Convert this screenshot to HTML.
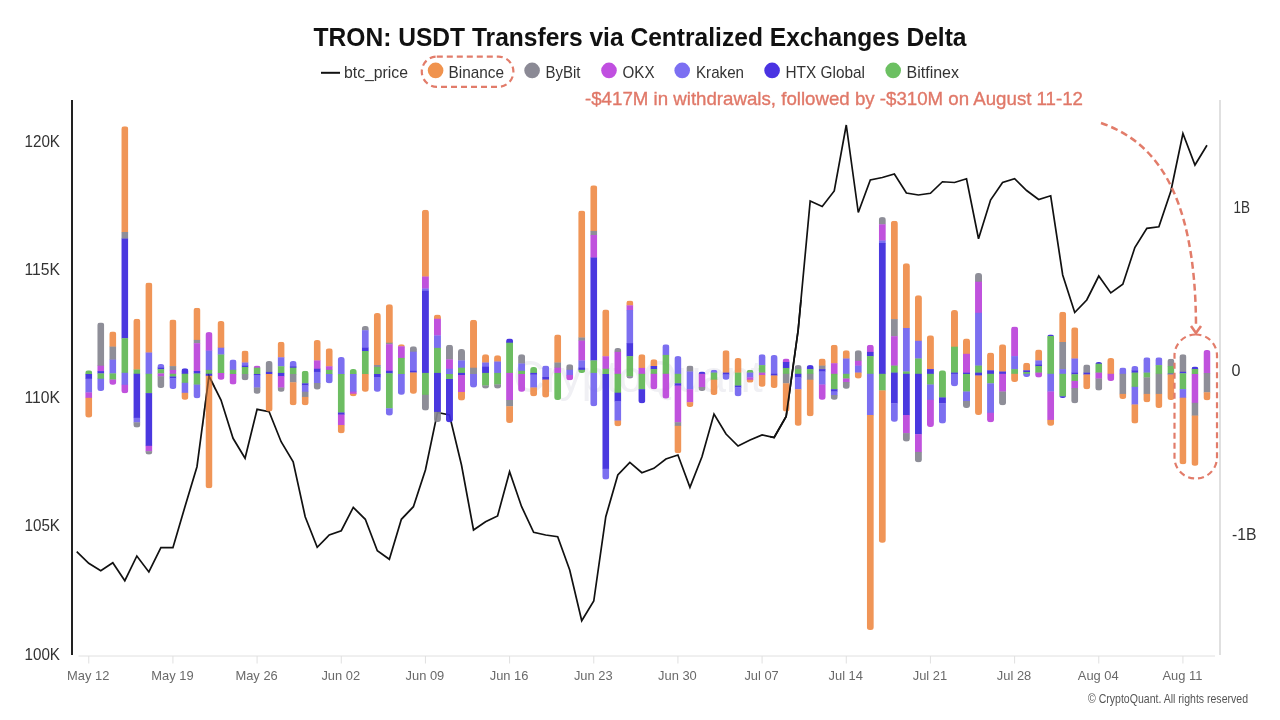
<!DOCTYPE html>
<html><head><meta charset="utf-8">
<style>
html,body{margin:0;padding:0;background:#fff;}
body{width:1280px;height:720px;overflow:hidden;position:relative;font-family:"Liberation Sans",sans-serif;}
svg{position:absolute;left:0;top:0;}
</style></head><body>
<svg width="1280" height="720" viewBox="0 0 1280 720">
<defs><clipPath id="c0"><rect x="85.25" y="370.30" width="7.0" height="47.30" rx="3" ry="3"/></clipPath><clipPath id="c1"><rect x="97.27" y="322.50" width="7.0" height="68.50" rx="3" ry="3"/></clipPath><clipPath id="c2"><rect x="109.30" y="331.40" width="7.0" height="53.40" rx="3" ry="3"/></clipPath><clipPath id="c3"><rect x="121.32" y="126.25" width="7.0" height="266.95" rx="3" ry="3"/></clipPath><clipPath id="c4"><rect x="133.35" y="318.70" width="7.0" height="108.70" rx="3" ry="3"/></clipPath><clipPath id="c5"><rect x="145.37" y="282.60" width="7.0" height="171.90" rx="3" ry="3"/></clipPath><clipPath id="c6"><rect x="157.39" y="364.00" width="7.0" height="24.00" rx="3" ry="3"/></clipPath><clipPath id="c7"><rect x="169.42" y="319.50" width="7.0" height="69.50" rx="3" ry="3"/></clipPath><clipPath id="c8"><rect x="181.44" y="368.20" width="7.0" height="31.60" rx="3" ry="3"/></clipPath><clipPath id="c9"><rect x="193.47" y="307.80" width="7.0" height="90.50" rx="3" ry="3"/></clipPath><clipPath id="c10"><rect x="205.49" y="332.10" width="7.0" height="156.10" rx="3" ry="3"/></clipPath><clipPath id="c11"><rect x="217.51" y="321.00" width="7.0" height="58.80" rx="3" ry="3"/></clipPath><clipPath id="c12"><rect x="229.54" y="359.40" width="7.0" height="25.00" rx="3" ry="3"/></clipPath><clipPath id="c13"><rect x="241.56" y="350.60" width="7.0" height="29.60" rx="3" ry="3"/></clipPath><clipPath id="c14"><rect x="253.59" y="365.60" width="7.0" height="28.15" rx="3" ry="3"/></clipPath><clipPath id="c15"><rect x="265.61" y="361.00" width="7.0" height="50.50" rx="3" ry="3"/></clipPath><clipPath id="c16"><rect x="277.63" y="341.70" width="7.0" height="50.00" rx="3" ry="3"/></clipPath><clipPath id="c17"><rect x="289.66" y="361.00" width="7.0" height="44.20" rx="3" ry="3"/></clipPath><clipPath id="c18"><rect x="301.68" y="370.80" width="7.0" height="34.40" rx="3" ry="3"/></clipPath><clipPath id="c19"><rect x="313.71" y="340.00" width="7.0" height="49.60" rx="3" ry="3"/></clipPath><clipPath id="c20"><rect x="325.73" y="348.30" width="7.0" height="35.00" rx="3" ry="3"/></clipPath><clipPath id="c21"><rect x="337.75" y="356.90" width="7.0" height="76.40" rx="3" ry="3"/></clipPath><clipPath id="c22"><rect x="349.78" y="369.00" width="7.0" height="27.25" rx="3" ry="3"/></clipPath><clipPath id="c23"><rect x="361.80" y="326.00" width="7.0" height="65.70" rx="3" ry="3"/></clipPath><clipPath id="c24"><rect x="373.83" y="312.90" width="7.0" height="78.80" rx="3" ry="3"/></clipPath><clipPath id="c25"><rect x="385.85" y="304.20" width="7.0" height="111.40" rx="3" ry="3"/></clipPath><clipPath id="c26"><rect x="397.87" y="344.20" width="7.0" height="50.60" rx="3" ry="3"/></clipPath><clipPath id="c27"><rect x="409.90" y="346.25" width="7.0" height="47.50" rx="3" ry="3"/></clipPath><clipPath id="c28"><rect x="421.92" y="209.70" width="7.0" height="200.70" rx="3" ry="3"/></clipPath><clipPath id="c29"><rect x="433.95" y="314.60" width="7.0" height="107.30" rx="3" ry="3"/></clipPath><clipPath id="c30"><rect x="445.97" y="344.80" width="7.0" height="77.50" rx="3" ry="3"/></clipPath><clipPath id="c31"><rect x="457.99" y="349.00" width="7.0" height="51.40" rx="3" ry="3"/></clipPath><clipPath id="c32"><rect x="470.02" y="319.80" width="7.0" height="67.70" rx="3" ry="3"/></clipPath><clipPath id="c33"><rect x="482.04" y="354.20" width="7.0" height="34.30" rx="3" ry="3"/></clipPath><clipPath id="c34"><rect x="494.07" y="355.20" width="7.0" height="33.30" rx="3" ry="3"/></clipPath><clipPath id="c35"><rect x="506.09" y="338.50" width="7.0" height="84.40" rx="3" ry="3"/></clipPath><clipPath id="c36"><rect x="518.11" y="354.20" width="7.0" height="37.50" rx="3" ry="3"/></clipPath><clipPath id="c37"><rect x="530.14" y="367.00" width="7.0" height="29.25" rx="3" ry="3"/></clipPath><clipPath id="c38"><rect x="542.16" y="365.60" width="7.0" height="31.90" rx="3" ry="3"/></clipPath><clipPath id="c39"><rect x="554.19" y="334.40" width="7.0" height="65.60" rx="3" ry="3"/></clipPath><clipPath id="c40"><rect x="566.21" y="364.20" width="7.0" height="16.00" rx="3" ry="3"/></clipPath><clipPath id="c41"><rect x="578.23" y="210.60" width="7.0" height="162.30" rx="3" ry="3"/></clipPath><clipPath id="c42"><rect x="590.26" y="185.30" width="7.0" height="220.95" rx="3" ry="3"/></clipPath><clipPath id="c43"><rect x="602.28" y="309.40" width="7.0" height="170.00" rx="3" ry="3"/></clipPath><clipPath id="c44"><rect x="614.31" y="347.90" width="7.0" height="78.35" rx="3" ry="3"/></clipPath><clipPath id="c45"><rect x="626.33" y="300.60" width="7.0" height="77.90" rx="3" ry="3"/></clipPath><clipPath id="c46"><rect x="638.35" y="354.20" width="7.0" height="49.10" rx="3" ry="3"/></clipPath><clipPath id="c47"><rect x="650.38" y="359.20" width="7.0" height="30.00" rx="3" ry="3"/></clipPath><clipPath id="c48"><rect x="662.40" y="344.30" width="7.0" height="54.30" rx="3" ry="3"/></clipPath><clipPath id="c49"><rect x="674.43" y="356.10" width="7.0" height="97.20" rx="3" ry="3"/></clipPath><clipPath id="c50"><rect x="686.45" y="365.60" width="7.0" height="41.30" rx="3" ry="3"/></clipPath><clipPath id="c51"><rect x="698.47" y="371.50" width="7.0" height="19.50" rx="3" ry="3"/></clipPath><clipPath id="c52"><rect x="710.50" y="369.80" width="7.0" height="25.30" rx="3" ry="3"/></clipPath><clipPath id="c53"><rect x="722.52" y="350.20" width="7.0" height="29.50" rx="3" ry="3"/></clipPath><clipPath id="c54"><rect x="734.55" y="358.00" width="7.0" height="38.30" rx="3" ry="3"/></clipPath><clipPath id="c55"><rect x="746.57" y="369.80" width="7.0" height="12.80" rx="3" ry="3"/></clipPath><clipPath id="c56"><rect x="758.59" y="354.20" width="7.0" height="32.60" rx="3" ry="3"/></clipPath><clipPath id="c57"><rect x="770.62" y="354.90" width="7.0" height="33.10" rx="3" ry="3"/></clipPath><clipPath id="c58"><rect x="782.64" y="358.50" width="7.0" height="53.10" rx="3" ry="3"/></clipPath><clipPath id="c59"><rect x="794.67" y="365.10" width="7.0" height="60.70" rx="3" ry="3"/></clipPath><clipPath id="c60"><rect x="806.69" y="365.10" width="7.0" height="51.20" rx="3" ry="3"/></clipPath><clipPath id="c61"><rect x="818.71" y="358.50" width="7.0" height="41.30" rx="3" ry="3"/></clipPath><clipPath id="c62"><rect x="830.74" y="344.80" width="7.0" height="55.00" rx="3" ry="3"/></clipPath><clipPath id="c63"><rect x="842.76" y="350.20" width="7.0" height="38.50" rx="3" ry="3"/></clipPath><clipPath id="c64"><rect x="854.79" y="350.20" width="7.0" height="28.30" rx="3" ry="3"/></clipPath><clipPath id="c65"><rect x="866.81" y="344.80" width="7.0" height="285.20" rx="3" ry="3"/></clipPath><clipPath id="c66"><rect x="878.83" y="217.10" width="7.0" height="325.60" rx="3" ry="3"/></clipPath><clipPath id="c67"><rect x="890.86" y="220.80" width="7.0" height="200.90" rx="3" ry="3"/></clipPath><clipPath id="c68"><rect x="902.88" y="263.20" width="7.0" height="178.30" rx="3" ry="3"/></clipPath><clipPath id="c69"><rect x="914.91" y="295.20" width="7.0" height="167.10" rx="3" ry="3"/></clipPath><clipPath id="c70"><rect x="926.93" y="335.30" width="7.0" height="91.70" rx="3" ry="3"/></clipPath><clipPath id="c71"><rect x="938.95" y="370.30" width="7.0" height="53.10" rx="3" ry="3"/></clipPath><clipPath id="c72"><rect x="950.98" y="310.00" width="7.0" height="76.30" rx="3" ry="3"/></clipPath><clipPath id="c73"><rect x="963.00" y="338.40" width="7.0" height="69.60" rx="3" ry="3"/></clipPath><clipPath id="c74"><rect x="975.03" y="273.00" width="7.0" height="142.10" rx="3" ry="3"/></clipPath><clipPath id="c75"><rect x="987.05" y="352.60" width="7.0" height="69.60" rx="3" ry="3"/></clipPath><clipPath id="c76"><rect x="999.07" y="344.30" width="7.0" height="60.90" rx="3" ry="3"/></clipPath><clipPath id="c77"><rect x="1011.10" y="326.60" width="7.0" height="55.50" rx="3" ry="3"/></clipPath><clipPath id="c78"><rect x="1023.12" y="362.70" width="7.0" height="14.20" rx="3" ry="3"/></clipPath><clipPath id="c79"><rect x="1035.15" y="349.50" width="7.0" height="27.90" rx="3" ry="3"/></clipPath><clipPath id="c80"><rect x="1047.17" y="334.40" width="7.0" height="91.40" rx="3" ry="3"/></clipPath><clipPath id="c81"><rect x="1059.19" y="311.70" width="7.0" height="86.40" rx="3" ry="3"/></clipPath><clipPath id="c82"><rect x="1071.22" y="327.30" width="7.0" height="76.00" rx="3" ry="3"/></clipPath><clipPath id="c83"><rect x="1083.24" y="364.40" width="7.0" height="24.80" rx="3" ry="3"/></clipPath><clipPath id="c84"><rect x="1095.27" y="362.00" width="7.0" height="28.40" rx="3" ry="3"/></clipPath><clipPath id="c85"><rect x="1107.29" y="358.00" width="7.0" height="22.90" rx="3" ry="3"/></clipPath><clipPath id="c86"><rect x="1119.31" y="367.50" width="7.0" height="31.60" rx="3" ry="3"/></clipPath><clipPath id="c87"><rect x="1131.34" y="366.00" width="7.0" height="57.40" rx="3" ry="3"/></clipPath><clipPath id="c88"><rect x="1143.36" y="357.30" width="7.0" height="44.90" rx="3" ry="3"/></clipPath><clipPath id="c89"><rect x="1155.39" y="357.30" width="7.0" height="50.70" rx="3" ry="3"/></clipPath><clipPath id="c90"><rect x="1167.41" y="358.70" width="7.0" height="41.30" rx="3" ry="3"/></clipPath><clipPath id="c91"><rect x="1179.43" y="354.20" width="7.0" height="110.00" rx="3" ry="3"/></clipPath><clipPath id="c92"><rect x="1191.46" y="366.50" width="7.0" height="99.30" rx="3" ry="3"/></clipPath><clipPath id="c93"><rect x="1203.48" y="349.90" width="7.0" height="50.40" rx="3" ry="3"/></clipPath></defs>
<rect width="1280" height="720" fill="#fff"/>
<g style="will-change:transform">
<text x="638" y="392" text-anchor="middle" font-family="Liberation Sans" font-size="44" fill="#f0f0f4">CryptoQuant</text>
<text x="313.50" y="45.60" textLength="653.00" lengthAdjust="spacingAndGlyphs" font-family="Liberation Sans" font-weight="bold" font-size="25.7" fill="#111">TRON: USDT Transfers via Centralized Exchanges Delta</text>
<line x1="321" y1="72.8" x2="340" y2="72.8" stroke="#111" stroke-width="2"/>
<circle cx="435.6" cy="70.4" r="7.8" fill="#f0934e"/>
<circle cx="532.1" cy="70.4" r="7.8" fill="#8b8a95"/>
<circle cx="609" cy="70.4" r="7.8" fill="#c04fe0"/>
<circle cx="682.2" cy="70.4" r="7.8" fill="#7c6ff2"/>
<circle cx="772.1" cy="70.4" r="7.8" fill="#4a33e2"/>
<circle cx="893.2" cy="70.4" r="7.8" fill="#6cc062"/>
<text x="344.00" y="77.50" textLength="64.00" lengthAdjust="spacingAndGlyphs" font-family="Liberation Sans" font-weight="normal" font-size="17" fill="#333">btc_price</text>
<text x="448.50" y="77.50" textLength="55.50" lengthAdjust="spacingAndGlyphs" font-family="Liberation Sans" font-weight="normal" font-size="17" fill="#333">Binance</text>
<text x="545.50" y="77.50" textLength="35.00" lengthAdjust="spacingAndGlyphs" font-family="Liberation Sans" font-weight="normal" font-size="17" fill="#333">ByBit</text>
<text x="622.50" y="77.50" textLength="32.00" lengthAdjust="spacingAndGlyphs" font-family="Liberation Sans" font-weight="normal" font-size="17" fill="#333">OKX</text>
<text x="696.00" y="77.50" textLength="48.00" lengthAdjust="spacingAndGlyphs" font-family="Liberation Sans" font-weight="normal" font-size="17" fill="#333">Kraken</text>
<text x="785.50" y="77.50" textLength="79.50" lengthAdjust="spacingAndGlyphs" font-family="Liberation Sans" font-weight="normal" font-size="17" fill="#333">HTX Global</text>
<text x="906.50" y="77.50" textLength="52.50" lengthAdjust="spacingAndGlyphs" font-family="Liberation Sans" font-weight="normal" font-size="17" fill="#333">Bitfinex</text>
<rect x="421.8" y="56.6" width="91.6" height="30.2" rx="15" ry="15" fill="none" stroke="#e27c6a" stroke-width="2.2" stroke-dasharray="6 4"/>
<text stroke="#e07868" stroke-width="0.35" x="585.00" y="105.00" textLength="498.00" lengthAdjust="spacingAndGlyphs" font-family="Liberation Sans" font-weight="normal" font-size="18.6" fill="#e07868">-$417M in withdrawals, followed by -$310M on August 11-12</text>
<text x="24.50" y="146.60" textLength="35.50" lengthAdjust="spacingAndGlyphs" font-family="Liberation Sans" font-weight="normal" font-size="17" fill="#333">120K</text>
<text x="24.50" y="274.85" textLength="35.50" lengthAdjust="spacingAndGlyphs" font-family="Liberation Sans" font-weight="normal" font-size="17" fill="#333">115K</text>
<text x="24.50" y="403.10" textLength="35.50" lengthAdjust="spacingAndGlyphs" font-family="Liberation Sans" font-weight="normal" font-size="17" fill="#333">110K</text>
<text x="24.50" y="531.35" textLength="35.50" lengthAdjust="spacingAndGlyphs" font-family="Liberation Sans" font-weight="normal" font-size="17" fill="#333">105K</text>
<text x="24.50" y="659.60" textLength="35.50" lengthAdjust="spacingAndGlyphs" font-family="Liberation Sans" font-weight="normal" font-size="17" fill="#333">100K</text>
<text x="1233.50" y="212.70" textLength="16.50" lengthAdjust="spacingAndGlyphs" font-family="Liberation Sans" font-weight="normal" font-size="16.8" fill="#333">1B</text>
<text x="1231.50" y="375.70" textLength="9.00" lengthAdjust="spacingAndGlyphs" font-family="Liberation Sans" font-weight="normal" font-size="16.8" fill="#333">0</text>
<text x="1232.00" y="539.70" textLength="24.50" lengthAdjust="spacingAndGlyphs" font-family="Liberation Sans" font-weight="normal" font-size="16.8" fill="#333">-1B</text>
<text x="1088.00" y="702.50" textLength="160.00" lengthAdjust="spacingAndGlyphs" font-family="Liberation Sans" font-weight="normal" font-size="12.7" fill="#555">© CryptoQuant. All rights reserved</text>
<line x1="72" y1="100" x2="72" y2="655" stroke="#222" stroke-width="2"/>
<line x1="1220" y1="100" x2="1220" y2="655" stroke="#d6d6d6" stroke-width="1.5"/>
<line x1="78.5" y1="656" x2="1215" y2="656" stroke="#e0e0e0" stroke-width="1"/>
<g stroke="#e0e0e0" stroke-width="1"><line x1="88.75" y1="656" x2="88.75" y2="663.5"/><line x1="172.92" y1="656" x2="172.92" y2="663.5"/><line x1="257.09" y1="656" x2="257.09" y2="663.5"/><line x1="341.25" y1="656" x2="341.25" y2="663.5"/><line x1="425.42" y1="656" x2="425.42" y2="663.5"/><line x1="509.59" y1="656" x2="509.59" y2="663.5"/><line x1="593.76" y1="656" x2="593.76" y2="663.5"/><line x1="677.93" y1="656" x2="677.93" y2="663.5"/><line x1="762.09" y1="656" x2="762.09" y2="663.5"/><line x1="846.26" y1="656" x2="846.26" y2="663.5"/><line x1="930.43" y1="656" x2="930.43" y2="663.5"/><line x1="1014.60" y1="656" x2="1014.60" y2="663.5"/><line x1="1098.77" y1="656" x2="1098.77" y2="663.5"/><line x1="1182.93" y1="656" x2="1182.93" y2="663.5"/></g>
<g font-family="Liberation Sans" font-size="12.9" fill="#6a6a6a" text-anchor="middle"><text x="88.25" y="680" textLength="42.30" lengthAdjust="spacingAndGlyphs">May 12</text><text x="172.42" y="680" textLength="42.30" lengthAdjust="spacingAndGlyphs">May 19</text><text x="256.59" y="680" textLength="42.30" lengthAdjust="spacingAndGlyphs">May 26</text><text x="340.75" y="680" textLength="38.73" lengthAdjust="spacingAndGlyphs">Jun 02</text><text x="424.92" y="680" textLength="38.73" lengthAdjust="spacingAndGlyphs">Jun 09</text><text x="509.09" y="680" textLength="38.73" lengthAdjust="spacingAndGlyphs">Jun 16</text><text x="593.26" y="680" textLength="38.73" lengthAdjust="spacingAndGlyphs">Jun 23</text><text x="677.43" y="680" textLength="38.73" lengthAdjust="spacingAndGlyphs">Jun 30</text><text x="761.59" y="680" textLength="34.42" lengthAdjust="spacingAndGlyphs">Jul 07</text><text x="845.76" y="680" textLength="34.42" lengthAdjust="spacingAndGlyphs">Jul 14</text><text x="929.93" y="680" textLength="34.42" lengthAdjust="spacingAndGlyphs">Jul 21</text><text x="1014.10" y="680" textLength="34.42" lengthAdjust="spacingAndGlyphs">Jul 28</text><text x="1098.27" y="680" textLength="40.88" lengthAdjust="spacingAndGlyphs">Aug 04</text><text x="1182.43" y="680" textLength="39.93" lengthAdjust="spacingAndGlyphs">Aug 11</text></g>
</g>
<polyline points="76.73,551.70 88.75,563.30 100.77,570.70 112.80,562.70 124.82,580.70 136.85,556.00 148.87,572.00 160.89,547.70 172.92,547.70 184.94,506.70 196.97,466.70 208.99,376.00 221.01,400.00 233.04,438.30 245.06,458.30 257.09,409.30 269.11,411.70 281.13,441.70 293.16,461.70 305.18,516.70 317.21,547.30 329.23,535.00 341.25,530.70 353.28,507.30 365.30,519.30 377.33,550.70 389.35,559.30 401.37,519.30 413.40,506.70 425.42,470.00 437.45,412.50 449.47,415.00 461.49,465.00 473.52,530.00 485.54,521.70 497.57,516.00 509.59,471.70 521.61,506.70 533.64,532.30 545.66,535.00 557.69,536.70 569.71,570.00 581.73,620.70 593.76,601.00 605.78,516.70 617.81,475.00 629.83,462.30 641.85,472.70 653.88,468.30 665.90,459.00 677.93,455.00 689.95,487.30 701.97,456.70 714.00,414.00 726.02,434.00 738.05,446.00 750.07,440.00 762.09,435.00 774.12,437.50 786.14,416.50 798.17,330.00 810.19,201.00 822.21,206.50 834.24,191.00 846.26,125.00 858.29,212.50 870.31,180.00 882.33,177.50 894.36,174.00 906.38,193.00 918.41,195.00 930.43,193.25 942.45,181.75 954.48,182.50 966.50,178.75 978.53,238.75 990.55,200.00 1002.57,182.50 1014.60,178.75 1026.62,190.50 1038.65,199.50 1050.67,195.75 1062.69,275.00 1074.72,312.50 1086.74,300.00 1098.77,276.00 1110.79,292.90 1122.81,284.30 1134.84,247.60 1146.86,228.30 1158.89,226.80 1170.91,191.00 1182.93,133.50 1194.96,165.00 1206.98,145.20" fill="none" stroke="#111" stroke-width="1.7" stroke-linejoin="miter"/>
<g opacity="0.92"><g clip-path="url(#c0)"><rect x="85.25" y="370.30" width="7.0" height="4.00" fill="#60b854"/><rect x="85.25" y="374.00" width="7.0" height="5.00" fill="#3a27dd"/><rect x="85.25" y="378.70" width="7.0" height="14.00" fill="#7163ef"/><rect x="85.25" y="392.40" width="7.0" height="5.70" fill="#bb43da"/><rect x="85.25" y="397.80" width="7.0" height="20.10" fill="#ef8c48"/></g><g clip-path="url(#c1)"><rect x="97.27" y="322.50" width="7.0" height="43.50" fill="#84848f"/><rect x="97.27" y="365.70" width="7.0" height="5.70" fill="#bb43da"/><rect x="97.27" y="371.10" width="7.0" height="2.60" fill="#3a27dd"/><rect x="97.27" y="373.40" width="7.0" height="5.60" fill="#60b854"/><rect x="97.27" y="378.70" width="7.0" height="12.60" fill="#7163ef"/></g><g clip-path="url(#c2)"><rect x="109.30" y="331.40" width="7.0" height="15.50" fill="#ef8c48"/><rect x="109.30" y="346.60" width="7.0" height="13.30" fill="#84848f"/><rect x="109.30" y="359.60" width="7.0" height="14.10" fill="#7163ef"/><rect x="109.30" y="373.40" width="7.0" height="6.40" fill="#60b854"/><rect x="109.30" y="379.50" width="7.0" height="5.60" fill="#bb43da"/></g><g clip-path="url(#c3)"><rect x="121.32" y="126.25" width="7.0" height="106.05" fill="#ef8c48"/><rect x="121.32" y="232.00" width="7.0" height="6.80" fill="#84848f"/><rect x="121.32" y="238.50" width="7.0" height="100.00" fill="#3a27dd"/><rect x="121.32" y="338.20" width="7.0" height="34.90" fill="#60b854"/><rect x="121.32" y="372.80" width="7.0" height="12.30" fill="#7163ef"/><rect x="121.32" y="384.80" width="7.0" height="8.70" fill="#bb43da"/></g><g clip-path="url(#c4)"><rect x="133.35" y="318.70" width="7.0" height="51.10" fill="#ef8c48"/><rect x="133.35" y="369.50" width="7.0" height="4.55" fill="#60b854"/><rect x="133.35" y="373.75" width="7.0" height="44.35" fill="#3a27dd"/><rect x="133.35" y="417.80" width="7.0" height="4.80" fill="#7163ef"/><rect x="133.35" y="422.30" width="7.0" height="5.40" fill="#84848f"/></g><g clip-path="url(#c5)"><rect x="145.37" y="282.60" width="7.0" height="70.20" fill="#ef8c48"/><rect x="145.37" y="352.50" width="7.0" height="21.55" fill="#7163ef"/><rect x="145.37" y="373.75" width="7.0" height="19.65" fill="#60b854"/><rect x="145.37" y="393.10" width="7.0" height="53.00" fill="#3a27dd"/><rect x="145.37" y="445.80" width="7.0" height="5.70" fill="#bb43da"/><rect x="145.37" y="451.20" width="7.0" height="3.60" fill="#84848f"/></g><g clip-path="url(#c6)"><rect x="157.39" y="364.00" width="7.0" height="3.80" fill="#7163ef"/><rect x="157.39" y="367.50" width="7.0" height="2.00" fill="#3a27dd"/><rect x="157.39" y="369.20" width="7.0" height="4.50" fill="#60b854"/><rect x="157.39" y="373.40" width="7.0" height="3.10" fill="#bb43da"/><rect x="157.39" y="376.20" width="7.0" height="12.10" fill="#84848f"/></g><g clip-path="url(#c7)"><rect x="169.42" y="319.50" width="7.0" height="46.90" fill="#ef8c48"/><rect x="169.42" y="366.10" width="7.0" height="4.20" fill="#84848f"/><rect x="169.42" y="370.00" width="7.0" height="4.05" fill="#bb43da"/><rect x="169.42" y="373.75" width="7.0" height="3.05" fill="#60b854"/><rect x="169.42" y="376.50" width="7.0" height="2.10" fill="#3a27dd"/><rect x="169.42" y="378.30" width="7.0" height="11.00" fill="#7163ef"/></g><g clip-path="url(#c8)"><rect x="181.44" y="368.20" width="7.0" height="5.85" fill="#3a27dd"/><rect x="181.44" y="373.75" width="7.0" height="9.35" fill="#60b854"/><rect x="181.44" y="382.80" width="7.0" height="10.30" fill="#7163ef"/><rect x="181.44" y="392.80" width="7.0" height="7.30" fill="#ef8c48"/></g><g clip-path="url(#c9)"><rect x="193.47" y="307.80" width="7.0" height="32.40" fill="#ef8c48"/><rect x="193.47" y="339.90" width="7.0" height="3.60" fill="#84848f"/><rect x="193.47" y="343.20" width="7.0" height="28.10" fill="#bb43da"/><rect x="193.47" y="371.00" width="7.0" height="2.80" fill="#3a27dd"/><rect x="193.47" y="373.50" width="7.0" height="11.40" fill="#60b854"/><rect x="193.47" y="384.60" width="7.0" height="14.00" fill="#7163ef"/></g><g clip-path="url(#c10)"><rect x="205.49" y="332.10" width="7.0" height="18.80" fill="#bb43da"/><rect x="205.49" y="350.60" width="7.0" height="19.60" fill="#7163ef"/><rect x="205.49" y="369.90" width="7.0" height="4.15" fill="#60b854"/><rect x="205.49" y="373.75" width="7.0" height="2.35" fill="#3a27dd"/><rect x="205.49" y="375.80" width="7.0" height="112.70" fill="#ef8c48"/></g><g clip-path="url(#c11)"><rect x="217.51" y="321.00" width="7.0" height="27.00" fill="#ef8c48"/><rect x="217.51" y="347.70" width="7.0" height="7.10" fill="#7163ef"/><rect x="217.51" y="354.50" width="7.0" height="18.80" fill="#60b854"/><rect x="217.51" y="373.00" width="7.0" height="7.10" fill="#bb43da"/></g><g clip-path="url(#c12)"><rect x="229.54" y="359.40" width="7.0" height="10.70" fill="#7163ef"/><rect x="229.54" y="369.80" width="7.0" height="4.50" fill="#60b854"/><rect x="229.54" y="374.00" width="7.0" height="10.70" fill="#bb43da"/></g><g clip-path="url(#c13)"><rect x="241.56" y="350.60" width="7.0" height="12.20" fill="#ef8c48"/><rect x="241.56" y="362.50" width="7.0" height="3.40" fill="#7163ef"/><rect x="241.56" y="365.60" width="7.0" height="1.70" fill="#3a27dd"/><rect x="241.56" y="367.00" width="7.0" height="7.30" fill="#60b854"/><rect x="241.56" y="374.00" width="7.0" height="6.50" fill="#84848f"/></g><g clip-path="url(#c14)"><rect x="253.59" y="365.60" width="7.0" height="2.40" fill="#bb43da"/><rect x="253.59" y="367.70" width="7.0" height="6.60" fill="#60b854"/><rect x="253.59" y="374.00" width="7.0" height="1.30" fill="#3a27dd"/><rect x="253.59" y="375.00" width="7.0" height="12.80" fill="#7163ef"/><rect x="253.59" y="387.50" width="7.0" height="6.55" fill="#84848f"/></g><g clip-path="url(#c15)"><rect x="265.61" y="361.00" width="7.0" height="11.20" fill="#84848f"/><rect x="265.61" y="371.90" width="7.0" height="2.40" fill="#3a27dd"/><rect x="265.61" y="374.00" width="7.0" height="37.80" fill="#ef8c48"/></g><g clip-path="url(#c16)"><rect x="277.63" y="341.70" width="7.0" height="15.90" fill="#ef8c48"/><rect x="277.63" y="357.30" width="7.0" height="9.25" fill="#7163ef"/><rect x="277.63" y="366.25" width="7.0" height="6.95" fill="#60b854"/><rect x="277.63" y="372.90" width="7.0" height="3.40" fill="#3a27dd"/><rect x="277.63" y="376.00" width="7.0" height="11.80" fill="#bb43da"/><rect x="277.63" y="387.50" width="7.0" height="4.50" fill="#84848f"/></g><g clip-path="url(#c17)"><rect x="289.66" y="361.00" width="7.0" height="5.55" fill="#7163ef"/><rect x="289.66" y="366.25" width="7.0" height="1.75" fill="#3a27dd"/><rect x="289.66" y="367.70" width="7.0" height="6.60" fill="#60b854"/><rect x="289.66" y="374.00" width="7.0" height="8.60" fill="#84848f"/><rect x="289.66" y="382.30" width="7.0" height="23.20" fill="#ef8c48"/></g><g clip-path="url(#c18)"><rect x="301.68" y="370.80" width="7.0" height="12.80" fill="#60b854"/><rect x="301.68" y="383.30" width="7.0" height="2.40" fill="#3a27dd"/><rect x="301.68" y="385.40" width="7.0" height="6.60" fill="#7163ef"/><rect x="301.68" y="391.70" width="7.0" height="5.50" fill="#84848f"/><rect x="301.68" y="396.90" width="7.0" height="8.60" fill="#ef8c48"/></g><g clip-path="url(#c19)"><rect x="313.71" y="340.00" width="7.0" height="20.70" fill="#ef8c48"/><rect x="313.71" y="360.40" width="7.0" height="8.65" fill="#bb43da"/><rect x="313.71" y="368.75" width="7.0" height="3.45" fill="#3a27dd"/><rect x="313.71" y="371.90" width="7.0" height="11.40" fill="#7163ef"/><rect x="313.71" y="383.00" width="7.0" height="6.90" fill="#84848f"/></g><g clip-path="url(#c20)"><rect x="325.73" y="348.30" width="7.0" height="18.25" fill="#ef8c48"/><rect x="325.73" y="366.25" width="7.0" height="3.85" fill="#bb43da"/><rect x="325.73" y="369.80" width="7.0" height="4.50" fill="#60b854"/><rect x="325.73" y="374.00" width="7.0" height="9.60" fill="#7163ef"/></g><g clip-path="url(#c21)"><rect x="337.75" y="356.90" width="7.0" height="17.40" fill="#7163ef"/><rect x="337.75" y="374.00" width="7.0" height="38.80" fill="#60b854"/><rect x="337.75" y="412.50" width="7.0" height="2.40" fill="#3a27dd"/><rect x="337.75" y="414.60" width="7.0" height="10.70" fill="#bb43da"/><rect x="337.75" y="425.00" width="7.0" height="8.60" fill="#ef8c48"/></g><g clip-path="url(#c22)"><rect x="349.78" y="369.00" width="7.0" height="5.30" fill="#60b854"/><rect x="349.78" y="374.00" width="7.0" height="18.00" fill="#7163ef"/><rect x="349.78" y="391.70" width="7.0" height="2.35" fill="#bb43da"/><rect x="349.78" y="393.75" width="7.0" height="2.80" fill="#ef8c48"/></g><g clip-path="url(#c23)"><rect x="361.80" y="326.00" width="7.0" height="4.50" fill="#84848f"/><rect x="361.80" y="330.20" width="7.0" height="17.60" fill="#7163ef"/><rect x="361.80" y="347.50" width="7.0" height="3.80" fill="#3a27dd"/><rect x="361.80" y="351.00" width="7.0" height="23.30" fill="#60b854"/><rect x="361.80" y="374.00" width="7.0" height="18.00" fill="#ef8c48"/></g><g clip-path="url(#c24)"><rect x="373.83" y="312.90" width="7.0" height="52.40" fill="#ef8c48"/><rect x="373.83" y="365.00" width="7.0" height="2.30" fill="#84848f"/><rect x="373.83" y="367.00" width="7.0" height="7.30" fill="#60b854"/><rect x="373.83" y="374.00" width="7.0" height="3.30" fill="#3a27dd"/><rect x="373.83" y="377.00" width="7.0" height="15.00" fill="#7163ef"/></g><g clip-path="url(#c25)"><rect x="385.85" y="304.20" width="7.0" height="38.80" fill="#ef8c48"/><rect x="385.85" y="342.70" width="7.0" height="1.80" fill="#84848f"/><rect x="385.85" y="344.20" width="7.0" height="26.90" fill="#bb43da"/><rect x="385.85" y="370.80" width="7.0" height="2.80" fill="#3a27dd"/><rect x="385.85" y="373.30" width="7.0" height="35.30" fill="#60b854"/><rect x="385.85" y="408.30" width="7.0" height="7.60" fill="#7163ef"/></g><g clip-path="url(#c26)"><rect x="397.87" y="344.20" width="7.0" height="2.35" fill="#ef8c48"/><rect x="397.87" y="346.25" width="7.0" height="11.95" fill="#bb43da"/><rect x="397.87" y="357.90" width="7.0" height="16.40" fill="#60b854"/><rect x="397.87" y="374.00" width="7.0" height="21.10" fill="#7163ef"/></g><g clip-path="url(#c27)"><rect x="409.90" y="346.25" width="7.0" height="5.75" fill="#84848f"/><rect x="409.90" y="351.70" width="7.0" height="19.40" fill="#7163ef"/><rect x="409.90" y="370.80" width="7.0" height="2.00" fill="#3a27dd"/><rect x="409.90" y="372.50" width="7.0" height="21.55" fill="#ef8c48"/></g><g clip-path="url(#c28)"><rect x="421.92" y="209.70" width="7.0" height="67.10" fill="#ef8c48"/><rect x="421.92" y="276.50" width="7.0" height="12.30" fill="#bb43da"/><rect x="421.92" y="288.50" width="7.0" height="2.60" fill="#7163ef"/><rect x="421.92" y="290.80" width="7.0" height="82.40" fill="#3a27dd"/><rect x="421.92" y="372.90" width="7.0" height="22.20" fill="#60b854"/><rect x="421.92" y="394.80" width="7.0" height="15.90" fill="#84848f"/></g><g clip-path="url(#c29)"><rect x="433.95" y="314.60" width="7.0" height="4.45" fill="#ef8c48"/><rect x="433.95" y="318.75" width="7.0" height="16.95" fill="#bb43da"/><rect x="433.95" y="335.40" width="7.0" height="12.80" fill="#7163ef"/><rect x="433.95" y="347.90" width="7.0" height="25.30" fill="#60b854"/><rect x="433.95" y="372.90" width="7.0" height="39.30" fill="#3a27dd"/><rect x="433.95" y="411.90" width="7.0" height="10.30" fill="#84848f"/></g><g clip-path="url(#c30)"><rect x="445.97" y="344.80" width="7.0" height="14.90" fill="#84848f"/><rect x="445.97" y="359.40" width="7.0" height="9.65" fill="#bb43da"/><rect x="445.97" y="368.75" width="7.0" height="5.55" fill="#7163ef"/><rect x="445.97" y="374.00" width="7.0" height="5.30" fill="#60b854"/><rect x="445.97" y="379.00" width="7.0" height="43.60" fill="#3a27dd"/></g><g clip-path="url(#c31)"><rect x="457.99" y="349.00" width="7.0" height="11.70" fill="#84848f"/><rect x="457.99" y="360.40" width="7.0" height="7.60" fill="#7163ef"/><rect x="457.99" y="367.70" width="7.0" height="5.50" fill="#60b854"/><rect x="457.99" y="372.90" width="7.0" height="2.40" fill="#3a27dd"/><rect x="457.99" y="375.00" width="7.0" height="17.30" fill="#bb43da"/><rect x="457.99" y="392.00" width="7.0" height="8.70" fill="#ef8c48"/></g><g clip-path="url(#c32)"><rect x="470.02" y="319.80" width="7.0" height="48.20" fill="#ef8c48"/><rect x="470.02" y="367.70" width="7.0" height="6.60" fill="#84848f"/><rect x="470.02" y="374.00" width="7.0" height="13.80" fill="#7163ef"/></g><g clip-path="url(#c33)"><rect x="482.04" y="354.20" width="7.0" height="8.60" fill="#ef8c48"/><rect x="482.04" y="362.50" width="7.0" height="4.50" fill="#7163ef"/><rect x="482.04" y="366.70" width="7.0" height="6.50" fill="#3a27dd"/><rect x="482.04" y="372.90" width="7.0" height="12.80" fill="#60b854"/><rect x="482.04" y="385.40" width="7.0" height="3.40" fill="#84848f"/></g><g clip-path="url(#c34)"><rect x="494.07" y="355.20" width="7.0" height="6.60" fill="#ef8c48"/><rect x="494.07" y="361.50" width="7.0" height="11.70" fill="#7163ef"/><rect x="494.07" y="372.90" width="7.0" height="11.80" fill="#60b854"/><rect x="494.07" y="384.40" width="7.0" height="4.40" fill="#84848f"/></g><g clip-path="url(#c35)"><rect x="506.09" y="338.50" width="7.0" height="4.50" fill="#3a27dd"/><rect x="506.09" y="342.70" width="7.0" height="30.50" fill="#60b854"/><rect x="506.09" y="372.90" width="7.0" height="27.40" fill="#bb43da"/><rect x="506.09" y="400.00" width="7.0" height="6.55" fill="#84848f"/><rect x="506.09" y="406.25" width="7.0" height="16.95" fill="#ef8c48"/></g><g clip-path="url(#c36)"><rect x="518.11" y="354.20" width="7.0" height="9.60" fill="#84848f"/><rect x="518.11" y="363.50" width="7.0" height="7.60" fill="#7163ef"/><rect x="518.11" y="370.80" width="7.0" height="3.50" fill="#60b854"/><rect x="518.11" y="374.00" width="7.0" height="18.00" fill="#bb43da"/></g><g clip-path="url(#c37)"><rect x="530.14" y="367.00" width="7.0" height="6.20" fill="#60b854"/><rect x="530.14" y="372.90" width="7.0" height="2.00" fill="#3a27dd"/><rect x="530.14" y="374.60" width="7.0" height="13.20" fill="#7163ef"/><rect x="530.14" y="387.50" width="7.0" height="9.05" fill="#ef8c48"/></g><g clip-path="url(#c38)"><rect x="542.16" y="365.60" width="7.0" height="11.70" fill="#7163ef"/><rect x="542.16" y="377.00" width="7.0" height="2.90" fill="#3a27dd"/><rect x="542.16" y="379.60" width="7.0" height="18.20" fill="#ef8c48"/></g><g clip-path="url(#c39)"><rect x="554.19" y="334.40" width="7.0" height="28.40" fill="#ef8c48"/><rect x="554.19" y="362.50" width="7.0" height="5.50" fill="#84848f"/><rect x="554.19" y="367.70" width="7.0" height="5.50" fill="#bb43da"/><rect x="554.19" y="372.90" width="7.0" height="27.40" fill="#60b854"/></g><g clip-path="url(#c40)"><rect x="566.21" y="364.20" width="7.0" height="5.90" fill="#84848f"/><rect x="566.21" y="369.80" width="7.0" height="5.50" fill="#7163ef"/><rect x="566.21" y="375.00" width="7.0" height="5.50" fill="#bb43da"/></g><g clip-path="url(#c41)"><rect x="578.23" y="210.60" width="7.0" height="127.20" fill="#ef8c48"/><rect x="578.23" y="337.50" width="7.0" height="3.40" fill="#84848f"/><rect x="578.23" y="340.60" width="7.0" height="20.10" fill="#bb43da"/><rect x="578.23" y="360.40" width="7.0" height="7.60" fill="#7163ef"/><rect x="578.23" y="367.70" width="7.0" height="2.40" fill="#3a27dd"/><rect x="578.23" y="369.80" width="7.0" height="3.40" fill="#60b854"/></g><g clip-path="url(#c42)"><rect x="590.26" y="185.30" width="7.0" height="45.90" fill="#ef8c48"/><rect x="590.26" y="230.90" width="7.0" height="4.40" fill="#84848f"/><rect x="590.26" y="235.00" width="7.0" height="22.80" fill="#bb43da"/><rect x="590.26" y="257.50" width="7.0" height="103.20" fill="#3a27dd"/><rect x="590.26" y="360.40" width="7.0" height="12.80" fill="#60b854"/><rect x="590.26" y="372.90" width="7.0" height="33.65" fill="#7163ef"/></g><g clip-path="url(#c43)"><rect x="602.28" y="309.40" width="7.0" height="47.15" fill="#ef8c48"/><rect x="602.28" y="356.25" width="7.0" height="12.80" fill="#bb43da"/><rect x="602.28" y="368.75" width="7.0" height="5.55" fill="#60b854"/><rect x="602.28" y="374.00" width="7.0" height="95.05" fill="#3a27dd"/><rect x="602.28" y="468.75" width="7.0" height="10.95" fill="#7163ef"/></g><g clip-path="url(#c44)"><rect x="614.31" y="347.90" width="7.0" height="4.30" fill="#84848f"/><rect x="614.31" y="351.90" width="7.0" height="22.20" fill="#bb43da"/><rect x="614.31" y="373.80" width="7.0" height="19.20" fill="#60b854"/><rect x="614.31" y="392.70" width="7.0" height="8.60" fill="#3a27dd"/><rect x="614.31" y="401.00" width="7.0" height="19.90" fill="#7163ef"/><rect x="614.31" y="420.60" width="7.0" height="5.95" fill="#ef8c48"/></g><g clip-path="url(#c45)"><rect x="626.33" y="300.60" width="7.0" height="5.00" fill="#ef8c48"/><rect x="626.33" y="305.30" width="7.0" height="5.00" fill="#bb43da"/><rect x="626.33" y="310.00" width="7.0" height="33.40" fill="#7163ef"/><rect x="626.33" y="343.10" width="7.0" height="13.30" fill="#3a27dd"/><rect x="626.33" y="356.10" width="7.0" height="20.40" fill="#60b854"/><rect x="626.33" y="376.20" width="7.0" height="2.60" fill="#84848f"/></g><g clip-path="url(#c46)"><rect x="638.35" y="354.20" width="7.0" height="14.00" fill="#ef8c48"/><rect x="638.35" y="367.90" width="7.0" height="6.20" fill="#bb43da"/><rect x="638.35" y="373.80" width="7.0" height="15.70" fill="#60b854"/><rect x="638.35" y="389.20" width="7.0" height="14.40" fill="#3a27dd"/></g><g clip-path="url(#c47)"><rect x="650.38" y="359.20" width="7.0" height="7.10" fill="#ef8c48"/><rect x="650.38" y="366.00" width="7.0" height="3.40" fill="#3a27dd"/><rect x="650.38" y="369.10" width="7.0" height="5.00" fill="#60b854"/><rect x="650.38" y="373.80" width="7.0" height="15.70" fill="#bb43da"/></g><g clip-path="url(#c48)"><rect x="662.40" y="344.30" width="7.0" height="10.90" fill="#7163ef"/><rect x="662.40" y="354.90" width="7.0" height="19.20" fill="#60b854"/><rect x="662.40" y="373.80" width="7.0" height="25.10" fill="#bb43da"/></g><g clip-path="url(#c49)"><rect x="674.43" y="356.10" width="7.0" height="18.00" fill="#7163ef"/><rect x="674.43" y="373.80" width="7.0" height="9.80" fill="#60b854"/><rect x="674.43" y="383.30" width="7.0" height="2.60" fill="#3a27dd"/><rect x="674.43" y="385.60" width="7.0" height="36.90" fill="#bb43da"/><rect x="674.43" y="422.20" width="7.0" height="3.90" fill="#84848f"/><rect x="674.43" y="425.80" width="7.0" height="27.80" fill="#ef8c48"/></g><g clip-path="url(#c50)"><rect x="686.45" y="365.60" width="7.0" height="6.20" fill="#84848f"/><rect x="686.45" y="371.50" width="7.0" height="18.00" fill="#7163ef"/><rect x="686.45" y="389.20" width="7.0" height="13.30" fill="#bb43da"/><rect x="686.45" y="402.20" width="7.0" height="5.00" fill="#ef8c48"/></g><g clip-path="url(#c51)"><rect x="698.47" y="371.50" width="7.0" height="2.60" fill="#3a27dd"/><rect x="698.47" y="373.80" width="7.0" height="13.50" fill="#bb43da"/><rect x="698.47" y="387.00" width="7.0" height="4.30" fill="#84848f"/></g><g clip-path="url(#c52)"><rect x="710.50" y="369.80" width="7.0" height="3.10" fill="#7163ef"/><rect x="710.50" y="372.60" width="7.0" height="7.40" fill="#60b854"/><rect x="710.50" y="379.70" width="7.0" height="15.70" fill="#ef8c48"/></g><g clip-path="url(#c53)"><rect x="722.52" y="350.20" width="7.0" height="22.70" fill="#ef8c48"/><rect x="722.52" y="372.60" width="7.0" height="2.20" fill="#3a27dd"/><rect x="722.52" y="374.50" width="7.0" height="5.50" fill="#7163ef"/></g><g clip-path="url(#c54)"><rect x="734.55" y="358.00" width="7.0" height="14.90" fill="#ef8c48"/><rect x="734.55" y="372.60" width="7.0" height="13.30" fill="#60b854"/><rect x="734.55" y="385.60" width="7.0" height="2.00" fill="#3a27dd"/><rect x="734.55" y="387.30" width="7.0" height="9.30" fill="#7163ef"/></g><g clip-path="url(#c55)"><rect x="746.57" y="369.80" width="7.0" height="3.10" fill="#60b854"/><rect x="746.57" y="372.60" width="7.0" height="5.10" fill="#7163ef"/><rect x="746.57" y="377.40" width="7.0" height="2.60" fill="#bb43da"/><rect x="746.57" y="379.70" width="7.0" height="3.20" fill="#ef8c48"/></g><g clip-path="url(#c56)"><rect x="758.59" y="354.20" width="7.0" height="11.20" fill="#7163ef"/><rect x="758.59" y="365.10" width="7.0" height="7.80" fill="#60b854"/><rect x="758.59" y="372.60" width="7.0" height="2.70" fill="#bb43da"/><rect x="758.59" y="375.00" width="7.0" height="12.10" fill="#ef8c48"/></g><g clip-path="url(#c57)"><rect x="770.62" y="354.90" width="7.0" height="19.20" fill="#7163ef"/><rect x="770.62" y="373.80" width="7.0" height="2.00" fill="#3a27dd"/><rect x="770.62" y="375.50" width="7.0" height="12.80" fill="#ef8c48"/></g><g clip-path="url(#c58)"><rect x="782.64" y="358.50" width="7.0" height="3.80" fill="#bb43da"/><rect x="782.64" y="362.00" width="7.0" height="6.30" fill="#3a27dd"/><rect x="782.64" y="368.00" width="7.0" height="6.10" fill="#60b854"/><rect x="782.64" y="373.80" width="7.0" height="9.80" fill="#84848f"/><rect x="782.64" y="383.30" width="7.0" height="28.60" fill="#ef8c48"/></g><g clip-path="url(#c59)"><rect x="794.67" y="365.10" width="7.0" height="4.30" fill="#84848f"/><rect x="794.67" y="369.10" width="7.0" height="5.00" fill="#60b854"/><rect x="794.67" y="373.80" width="7.0" height="3.90" fill="#3a27dd"/><rect x="794.67" y="377.40" width="7.0" height="12.10" fill="#7163ef"/><rect x="794.67" y="389.20" width="7.0" height="36.90" fill="#ef8c48"/></g><g clip-path="url(#c60)"><rect x="806.69" y="365.10" width="7.0" height="4.30" fill="#3a27dd"/><rect x="806.69" y="369.10" width="7.0" height="5.00" fill="#60b854"/><rect x="806.69" y="373.80" width="7.0" height="6.20" fill="#84848f"/><rect x="806.69" y="379.70" width="7.0" height="36.90" fill="#ef8c48"/></g><g clip-path="url(#c61)"><rect x="818.71" y="358.50" width="7.0" height="7.40" fill="#ef8c48"/><rect x="818.71" y="365.60" width="7.0" height="3.80" fill="#84848f"/><rect x="818.71" y="369.10" width="7.0" height="2.70" fill="#3a27dd"/><rect x="818.71" y="371.50" width="7.0" height="13.30" fill="#7163ef"/><rect x="818.71" y="384.50" width="7.0" height="15.60" fill="#bb43da"/></g><g clip-path="url(#c62)"><rect x="830.74" y="344.80" width="7.0" height="18.70" fill="#ef8c48"/><rect x="830.74" y="363.20" width="7.0" height="10.90" fill="#bb43da"/><rect x="830.74" y="373.80" width="7.0" height="15.70" fill="#60b854"/><rect x="830.74" y="389.20" width="7.0" height="2.60" fill="#3a27dd"/><rect x="830.74" y="391.50" width="7.0" height="3.80" fill="#7163ef"/><rect x="830.74" y="395.00" width="7.0" height="5.10" fill="#84848f"/></g><g clip-path="url(#c63)"><rect x="842.76" y="350.20" width="7.0" height="8.60" fill="#ef8c48"/><rect x="842.76" y="358.50" width="7.0" height="15.60" fill="#7163ef"/><rect x="842.76" y="373.80" width="7.0" height="5.00" fill="#60b854"/><rect x="842.76" y="378.50" width="7.0" height="3.80" fill="#bb43da"/><rect x="842.76" y="382.00" width="7.0" height="7.00" fill="#84848f"/></g><g clip-path="url(#c64)"><rect x="854.79" y="350.20" width="7.0" height="10.90" fill="#84848f"/><rect x="854.79" y="360.80" width="7.0" height="5.10" fill="#bb43da"/><rect x="854.79" y="365.60" width="7.0" height="7.30" fill="#7163ef"/><rect x="854.79" y="372.60" width="7.0" height="6.20" fill="#ef8c48"/></g><g clip-path="url(#c65)"><rect x="866.81" y="344.80" width="7.0" height="7.40" fill="#bb43da"/><rect x="866.81" y="351.90" width="7.0" height="4.50" fill="#3a27dd"/><rect x="866.81" y="356.10" width="7.0" height="18.00" fill="#60b854"/><rect x="866.81" y="373.80" width="7.0" height="41.50" fill="#7163ef"/><rect x="866.81" y="415.00" width="7.0" height="215.30" fill="#ef8c48"/></g><g clip-path="url(#c66)"><rect x="878.83" y="217.10" width="7.0" height="7.50" fill="#84848f"/><rect x="878.83" y="224.30" width="7.0" height="16.50" fill="#bb43da"/><rect x="878.83" y="240.50" width="7.0" height="2.80" fill="#7163ef"/><rect x="878.83" y="243.00" width="7.0" height="131.10" fill="#3a27dd"/><rect x="878.83" y="373.80" width="7.0" height="16.90" fill="#60b854"/><rect x="878.83" y="390.40" width="7.0" height="152.60" fill="#ef8c48"/></g><g clip-path="url(#c67)"><rect x="890.86" y="220.80" width="7.0" height="98.60" fill="#ef8c48"/><rect x="890.86" y="319.10" width="7.0" height="17.40" fill="#84848f"/><rect x="890.86" y="336.20" width="7.0" height="29.70" fill="#bb43da"/><rect x="890.86" y="365.60" width="7.0" height="7.30" fill="#60b854"/><rect x="890.86" y="372.60" width="7.0" height="31.00" fill="#3a27dd"/><rect x="890.86" y="403.30" width="7.0" height="18.70" fill="#7163ef"/></g><g clip-path="url(#c68)"><rect x="902.88" y="263.20" width="7.0" height="65.10" fill="#ef8c48"/><rect x="902.88" y="328.00" width="7.0" height="43.80" fill="#7163ef"/><rect x="902.88" y="371.50" width="7.0" height="2.60" fill="#60b854"/><rect x="902.88" y="373.80" width="7.0" height="41.50" fill="#3a27dd"/><rect x="902.88" y="415.00" width="7.0" height="18.40" fill="#bb43da"/><rect x="902.88" y="433.10" width="7.0" height="8.70" fill="#84848f"/></g><g clip-path="url(#c69)"><rect x="914.91" y="295.20" width="7.0" height="45.90" fill="#ef8c48"/><rect x="914.91" y="340.80" width="7.0" height="18.00" fill="#7163ef"/><rect x="914.91" y="358.50" width="7.0" height="15.60" fill="#60b854"/><rect x="914.91" y="373.80" width="7.0" height="60.70" fill="#3a27dd"/><rect x="914.91" y="434.20" width="7.0" height="18.00" fill="#bb43da"/><rect x="914.91" y="451.90" width="7.0" height="10.70" fill="#84848f"/></g><g clip-path="url(#c70)"><rect x="926.93" y="335.30" width="7.0" height="34.10" fill="#ef8c48"/><rect x="926.93" y="369.10" width="7.0" height="5.00" fill="#3a27dd"/><rect x="926.93" y="373.80" width="7.0" height="11.00" fill="#60b854"/><rect x="926.93" y="384.50" width="7.0" height="15.60" fill="#7163ef"/><rect x="926.93" y="399.80" width="7.0" height="27.50" fill="#bb43da"/></g><g clip-path="url(#c71)"><rect x="938.95" y="370.30" width="7.0" height="27.40" fill="#60b854"/><rect x="938.95" y="397.40" width="7.0" height="6.20" fill="#3a27dd"/><rect x="938.95" y="403.30" width="7.0" height="20.40" fill="#7163ef"/></g><g clip-path="url(#c72)"><rect x="950.98" y="310.00" width="7.0" height="37.00" fill="#ef8c48"/><rect x="950.98" y="346.70" width="7.0" height="26.20" fill="#60b854"/><rect x="950.98" y="372.60" width="7.0" height="1.50" fill="#3a27dd"/><rect x="950.98" y="373.80" width="7.0" height="12.80" fill="#7163ef"/></g><g clip-path="url(#c73)"><rect x="963.00" y="338.40" width="7.0" height="15.70" fill="#ef8c48"/><rect x="963.00" y="353.80" width="7.0" height="19.10" fill="#bb43da"/><rect x="963.00" y="372.60" width="7.0" height="1.70" fill="#3a27dd"/><rect x="963.00" y="374.00" width="7.0" height="17.80" fill="#60b854"/><rect x="963.00" y="391.50" width="7.0" height="9.80" fill="#7163ef"/><rect x="963.00" y="401.00" width="7.0" height="7.30" fill="#84848f"/></g><g clip-path="url(#c74)"><rect x="975.03" y="273.00" width="7.0" height="9.00" fill="#84848f"/><rect x="975.03" y="281.70" width="7.0" height="31.40" fill="#bb43da"/><rect x="975.03" y="312.80" width="7.0" height="53.10" fill="#7163ef"/><rect x="975.03" y="365.60" width="7.0" height="7.30" fill="#60b854"/><rect x="975.03" y="372.60" width="7.0" height="3.20" fill="#3a27dd"/><rect x="975.03" y="375.50" width="7.0" height="39.90" fill="#ef8c48"/></g><g clip-path="url(#c75)"><rect x="987.05" y="352.60" width="7.0" height="18.00" fill="#ef8c48"/><rect x="987.05" y="370.30" width="7.0" height="3.80" fill="#3a27dd"/><rect x="987.05" y="373.80" width="7.0" height="9.80" fill="#60b854"/><rect x="987.05" y="383.30" width="7.0" height="29.80" fill="#7163ef"/><rect x="987.05" y="412.80" width="7.0" height="9.70" fill="#bb43da"/></g><g clip-path="url(#c76)"><rect x="999.07" y="344.30" width="7.0" height="27.50" fill="#ef8c48"/><rect x="999.07" y="371.50" width="7.0" height="2.60" fill="#3a27dd"/><rect x="999.07" y="373.80" width="7.0" height="18.00" fill="#bb43da"/><rect x="999.07" y="391.50" width="7.0" height="14.00" fill="#84848f"/></g><g clip-path="url(#c77)"><rect x="1011.10" y="326.60" width="7.0" height="29.80" fill="#bb43da"/><rect x="1011.10" y="356.10" width="7.0" height="13.30" fill="#7163ef"/><rect x="1011.10" y="369.10" width="7.0" height="5.00" fill="#60b854"/><rect x="1011.10" y="373.80" width="7.0" height="8.60" fill="#ef8c48"/></g><g clip-path="url(#c78)"><rect x="1023.12" y="362.70" width="7.0" height="7.90" fill="#ef8c48"/><rect x="1023.12" y="370.30" width="7.0" height="2.00" fill="#3a27dd"/><rect x="1023.12" y="372.00" width="7.0" height="2.10" fill="#60b854"/><rect x="1023.12" y="373.80" width="7.0" height="3.40" fill="#7163ef"/></g><g clip-path="url(#c79)"><rect x="1035.15" y="349.50" width="7.0" height="11.20" fill="#ef8c48"/><rect x="1035.15" y="360.40" width="7.0" height="4.30" fill="#7163ef"/><rect x="1035.15" y="364.40" width="7.0" height="1.90" fill="#3a27dd"/><rect x="1035.15" y="366.00" width="7.0" height="6.90" fill="#60b854"/><rect x="1035.15" y="372.60" width="7.0" height="5.10" fill="#bb43da"/></g><g clip-path="url(#c80)"><rect x="1047.17" y="334.40" width="7.0" height="1.90" fill="#3a27dd"/><rect x="1047.17" y="336.00" width="7.0" height="38.10" fill="#60b854"/><rect x="1047.17" y="373.80" width="7.0" height="18.00" fill="#7163ef"/><rect x="1047.17" y="391.50" width="7.0" height="28.70" fill="#bb43da"/><rect x="1047.17" y="419.90" width="7.0" height="6.20" fill="#ef8c48"/></g><g clip-path="url(#c81)"><rect x="1059.19" y="311.70" width="7.0" height="30.60" fill="#ef8c48"/><rect x="1059.19" y="342.00" width="7.0" height="27.40" fill="#84848f"/><rect x="1059.19" y="369.10" width="7.0" height="5.00" fill="#7163ef"/><rect x="1059.19" y="373.80" width="7.0" height="22.80" fill="#60b854"/><rect x="1059.19" y="396.30" width="7.0" height="2.10" fill="#3a27dd"/></g><g clip-path="url(#c82)"><rect x="1071.22" y="327.30" width="7.0" height="31.50" fill="#ef8c48"/><rect x="1071.22" y="358.50" width="7.0" height="14.40" fill="#7163ef"/><rect x="1071.22" y="372.60" width="7.0" height="2.00" fill="#3a27dd"/><rect x="1071.22" y="374.30" width="7.0" height="6.90" fill="#60b854"/><rect x="1071.22" y="380.90" width="7.0" height="7.40" fill="#bb43da"/><rect x="1071.22" y="388.00" width="7.0" height="15.60" fill="#84848f"/></g><g clip-path="url(#c83)"><rect x="1083.24" y="364.40" width="7.0" height="8.50" fill="#84848f"/><rect x="1083.24" y="372.60" width="7.0" height="2.20" fill="#3a27dd"/><rect x="1083.24" y="374.50" width="7.0" height="15.00" fill="#ef8c48"/></g><g clip-path="url(#c84)"><rect x="1095.27" y="362.00" width="7.0" height="2.00" fill="#3a27dd"/><rect x="1095.27" y="363.70" width="7.0" height="9.20" fill="#60b854"/><rect x="1095.27" y="372.60" width="7.0" height="6.20" fill="#bb43da"/><rect x="1095.27" y="378.50" width="7.0" height="12.20" fill="#84848f"/></g><g clip-path="url(#c85)"><rect x="1107.29" y="358.00" width="7.0" height="16.10" fill="#ef8c48"/><rect x="1107.29" y="373.80" width="7.0" height="7.40" fill="#bb43da"/></g><g clip-path="url(#c86)"><rect x="1119.31" y="367.50" width="7.0" height="6.60" fill="#7163ef"/><rect x="1119.31" y="373.80" width="7.0" height="20.40" fill="#84848f"/><rect x="1119.31" y="393.90" width="7.0" height="5.50" fill="#ef8c48"/></g><g clip-path="url(#c87)"><rect x="1131.34" y="366.00" width="7.0" height="4.60" fill="#7163ef"/><rect x="1131.34" y="370.30" width="7.0" height="2.60" fill="#3a27dd"/><rect x="1131.34" y="372.60" width="7.0" height="14.50" fill="#60b854"/><rect x="1131.34" y="386.80" width="7.0" height="18.00" fill="#7163ef"/><rect x="1131.34" y="404.50" width="7.0" height="19.20" fill="#ef8c48"/></g><g clip-path="url(#c88)"><rect x="1143.36" y="357.30" width="7.0" height="15.60" fill="#7163ef"/><rect x="1143.36" y="372.60" width="7.0" height="5.10" fill="#60b854"/><rect x="1143.36" y="377.40" width="7.0" height="16.80" fill="#84848f"/><rect x="1143.36" y="393.90" width="7.0" height="8.60" fill="#ef8c48"/></g><g clip-path="url(#c89)"><rect x="1155.39" y="357.30" width="7.0" height="8.10" fill="#7163ef"/><rect x="1155.39" y="365.10" width="7.0" height="9.00" fill="#60b854"/><rect x="1155.39" y="373.80" width="7.0" height="20.40" fill="#84848f"/><rect x="1155.39" y="393.90" width="7.0" height="14.40" fill="#ef8c48"/></g><g clip-path="url(#c90)"><rect x="1167.41" y="358.70" width="7.0" height="7.60" fill="#84848f"/><rect x="1167.41" y="366.00" width="7.0" height="7.90" fill="#60b854"/><rect x="1167.41" y="373.60" width="7.0" height="1.10" fill="#3a27dd"/><rect x="1167.41" y="374.40" width="7.0" height="25.90" fill="#ef8c48"/></g><g clip-path="url(#c91)"><rect x="1179.43" y="354.20" width="7.0" height="17.90" fill="#84848f"/><rect x="1179.43" y="371.80" width="7.0" height="1.80" fill="#3a27dd"/><rect x="1179.43" y="373.30" width="7.0" height="16.10" fill="#60b854"/><rect x="1179.43" y="389.10" width="7.0" height="8.90" fill="#7163ef"/><rect x="1179.43" y="397.70" width="7.0" height="66.80" fill="#ef8c48"/></g><g clip-path="url(#c92)"><rect x="1191.46" y="366.50" width="7.0" height="2.80" fill="#3a27dd"/><rect x="1191.46" y="369.00" width="7.0" height="5.30" fill="#60b854"/><rect x="1191.46" y="374.00" width="7.0" height="29.10" fill="#bb43da"/><rect x="1191.46" y="402.80" width="7.0" height="13.10" fill="#84848f"/><rect x="1191.46" y="415.60" width="7.0" height="50.50" fill="#ef8c48"/></g><g clip-path="url(#c93)"><rect x="1203.48" y="349.90" width="7.0" height="23.40" fill="#bb43da"/><rect x="1203.48" y="373.00" width="7.0" height="19.60" fill="#84848f"/><rect x="1203.48" y="392.30" width="7.0" height="8.30" fill="#ef8c48"/></g></g>
<clipPath id="lc1"><rect x="770" y="300" width="45" height="140"/></clipPath><clipPath id="lc2"><rect x="203" y="370" width="12" height="130"/></clipPath>
<polyline points="76.73,551.70 88.75,563.30 100.77,570.70 112.80,562.70 124.82,580.70 136.85,556.00 148.87,572.00 160.89,547.70 172.92,547.70 184.94,506.70 196.97,466.70 208.99,376.00 221.01,400.00 233.04,438.30 245.06,458.30 257.09,409.30 269.11,411.70 281.13,441.70 293.16,461.70 305.18,516.70 317.21,547.30 329.23,535.00 341.25,530.70 353.28,507.30 365.30,519.30 377.33,550.70 389.35,559.30 401.37,519.30 413.40,506.70 425.42,470.00 437.45,412.50 449.47,415.00 461.49,465.00 473.52,530.00 485.54,521.70 497.57,516.00 509.59,471.70 521.61,506.70 533.64,532.30 545.66,535.00 557.69,536.70 569.71,570.00 581.73,620.70 593.76,601.00 605.78,516.70 617.81,475.00 629.83,462.30 641.85,472.70 653.88,468.30 665.90,459.00 677.93,455.00 689.95,487.30 701.97,456.70 714.00,414.00 726.02,434.00 738.05,446.00 750.07,440.00 762.09,435.00 774.12,437.50 786.14,416.50 798.17,330.00 810.19,201.00 822.21,206.50 834.24,191.00 846.26,125.00 858.29,212.50 870.31,180.00 882.33,177.50 894.36,174.00 906.38,193.00 918.41,195.00 930.43,193.25 942.45,181.75 954.48,182.50 966.50,178.75 978.53,238.75 990.55,200.00 1002.57,182.50 1014.60,178.75 1026.62,190.50 1038.65,199.50 1050.67,195.75 1062.69,275.00 1074.72,312.50 1086.74,300.00 1098.77,276.00 1110.79,292.90 1122.81,284.30 1134.84,247.60 1146.86,228.30 1158.89,226.80 1170.91,191.00 1182.93,133.50 1194.96,165.00 1206.98,145.20" fill="none" stroke="#111" stroke-width="1.7" clip-path="url(#lc1)"/>
<polyline points="76.73,551.70 88.75,563.30 100.77,570.70 112.80,562.70 124.82,580.70 136.85,556.00 148.87,572.00 160.89,547.70 172.92,547.70 184.94,506.70 196.97,466.70 208.99,376.00 221.01,400.00 233.04,438.30 245.06,458.30 257.09,409.30 269.11,411.70 281.13,441.70 293.16,461.70 305.18,516.70 317.21,547.30 329.23,535.00 341.25,530.70 353.28,507.30 365.30,519.30 377.33,550.70 389.35,559.30 401.37,519.30 413.40,506.70 425.42,470.00 437.45,412.50 449.47,415.00 461.49,465.00 473.52,530.00 485.54,521.70 497.57,516.00 509.59,471.70 521.61,506.70 533.64,532.30 545.66,535.00 557.69,536.70 569.71,570.00 581.73,620.70 593.76,601.00 605.78,516.70 617.81,475.00 629.83,462.30 641.85,472.70 653.88,468.30 665.90,459.00 677.93,455.00 689.95,487.30 701.97,456.70 714.00,414.00 726.02,434.00 738.05,446.00 750.07,440.00 762.09,435.00 774.12,437.50 786.14,416.50 798.17,330.00 810.19,201.00 822.21,206.50 834.24,191.00 846.26,125.00 858.29,212.50 870.31,180.00 882.33,177.50 894.36,174.00 906.38,193.00 918.41,195.00 930.43,193.25 942.45,181.75 954.48,182.50 966.50,178.75 978.53,238.75 990.55,200.00 1002.57,182.50 1014.60,178.75 1026.62,190.50 1038.65,199.50 1050.67,195.75 1062.69,275.00 1074.72,312.50 1086.74,300.00 1098.77,276.00 1110.79,292.90 1122.81,284.30 1134.84,247.60 1146.86,228.30 1158.89,226.80 1170.91,191.00 1182.93,133.50 1194.96,165.00 1206.98,145.20" fill="none" stroke="#111" stroke-width="1.7" opacity="0.45" clip-path="url(#lc2)"/>
<path d="M1101,123 C1150,140 1196,185 1196,328" fill="none" stroke="#e27c6a" stroke-width="2.5" stroke-dasharray="7 4"/>
<path d="M1191,326 L1196,333 L1201,326" fill="none" stroke="#e27c6a" stroke-width="2.6"/>
<rect x="1174.5" y="334.5" width="42.5" height="144" rx="21" ry="21" fill="none" stroke="#e27c6a" stroke-width="2.2" stroke-dasharray="6 4"/>
</svg></body></html>
